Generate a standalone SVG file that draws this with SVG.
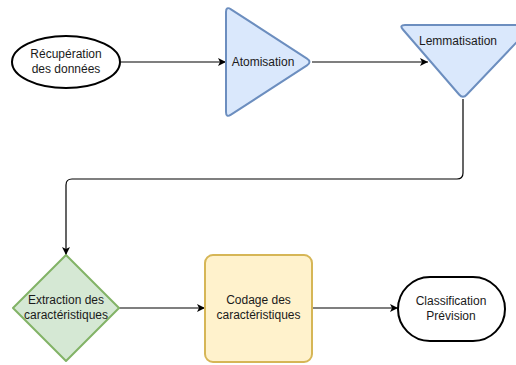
<svg xmlns="http://www.w3.org/2000/svg" width="516" height="365" viewBox="0 0 516 365">
  <defs>
    <marker id="arrow" markerUnits="userSpaceOnUse" markerWidth="10" markerHeight="10" refX="8" refY="4" orient="auto">
      <path d="M0,0 L8,4 L0,8 L2,4 Z" fill="#000"/>
    </marker>
    <style>
      .lbl { font-family: "Liberation Sans", Arial, sans-serif; font-size: 12px; fill: #1a1a1a; text-anchor: middle; }
      .conn { fill: none; stroke: #000; stroke-width: 1.2; }
      .blue { fill: #dae8fc; stroke: #6c8ebf; stroke-width: 2; stroke-linejoin: round; }
      .green { fill: #d5e8d4; stroke: #82b366; stroke-width: 2; stroke-linejoin: round; }
      .yellow { fill: #fff2cc; stroke: #d6b656; stroke-width: 2; }
      .term { fill: #fff; stroke: #000; stroke-width: 2; }
    </style>
  </defs>
  <rect width="516" height="365" fill="#fff"/>

  <g id="connectors">
    <path class="conn" d="M121,62 L226,62" marker-end="url(#arrow)"/>
    <path class="conn" d="M312,62 L428,62" marker-end="url(#arrow)"/>
    <path class="conn" d="M463,99 L463,173 Q463,179 457,179 L72,179 Q66,179 66,185 L66,255" marker-end="url(#arrow)"/>
    <path class="conn" d="M119,308 L205,308" marker-end="url(#arrow)"/>
    <path class="conn" d="M312,308 L398,308" marker-end="url(#arrow)"/>
  </g>

  <g id="recuperation">
    <ellipse class="term" cx="66" cy="62" rx="54" ry="26"/>
    <text class="lbl" x="66" y="58">Récupération</text>
    <text class="lbl" x="66" y="73">des données</text>
  </g>

  <g id="atomisation">
    <path class="blue" d="M226,12 Q226,6 231,9.3 L307,58.7 Q312,62 307,65.3 L231,114.7 Q226,118 226,112 Z"/>
    <text class="lbl" x="263" y="66">Atomisation</text>
  </g>

  <g id="lemmatisation">
    <path class="blue" d="M405,25 L533,25 L466.9,94.5 Q463,99 459.1,94.5 L402.9,29.5 Q399,25 405,25 Z"/>
    <text class="lbl" x="458" y="45">Lemmatisation</text>
  </g>

  <g id="extraction">
    <path class="green" d="M66,255 L119,308 L66,361 L13,308 Z"/>
    <text class="lbl" x="66" y="304">Extraction des</text>
    <text class="lbl" x="66" y="319">caractéristiques</text>
  </g>

  <g id="codage">
    <rect class="yellow" x="205" y="255" width="107" height="107" rx="8"/>
    <text class="lbl" x="258.5" y="304">Codage des</text>
    <text class="lbl" x="258.5" y="319">caractéristiques</text>
  </g>

  <g id="classification">
    <rect class="term" x="398" y="277" width="107" height="64" rx="32"/>
    <text class="lbl" x="451" y="305">Classification</text>
    <text class="lbl" x="451" y="320">Prévision</text>
  </g>
</svg>
